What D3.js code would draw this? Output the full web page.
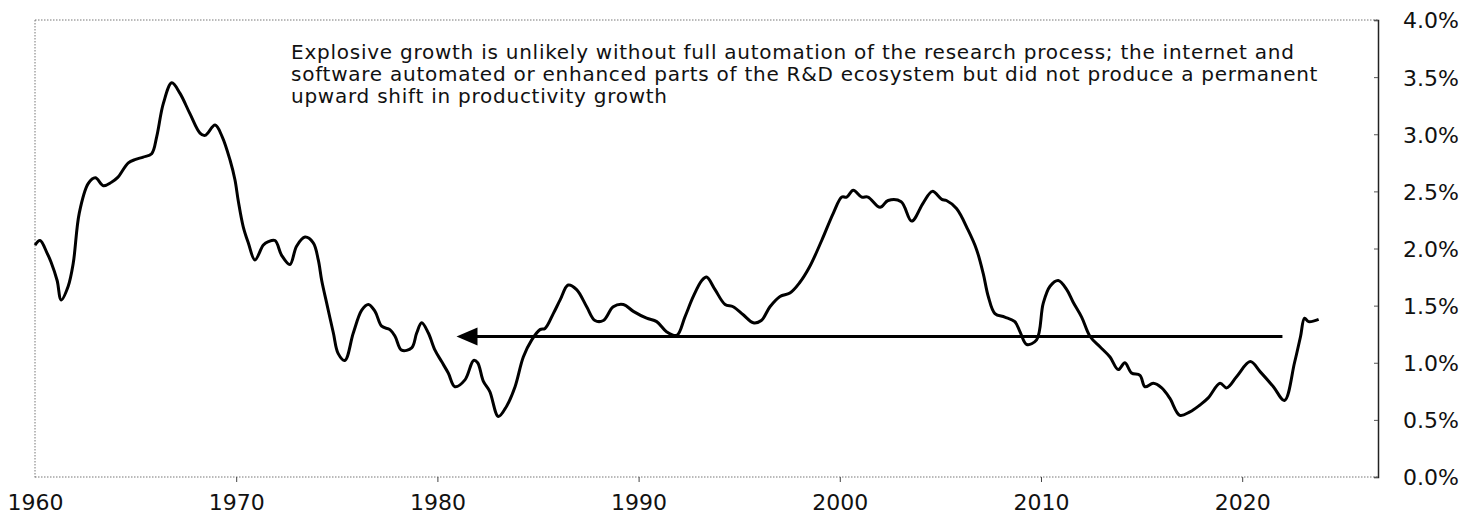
<!DOCTYPE html>
<html>
<head>
<meta charset="utf-8">
<script src="https://cdn.jsdelivr.net/npm/d3@7"></script>
<style>
  body { margin: 0; background: #fff; }
  svg { display: block; }
  .lbl { font-family: "DejaVu Sans", "Liberation Sans", sans-serif; fill: #111; }
</style>
</head>
<body>
<script>
// productivity growth
const years = [
  1960.0, 1960.25, 1960.6, 1960.8, 1961.1, 1961.3, 1961.65, 1961.9, 1962.2, 1962.65,
  1963.0, 1963.4, 1963.8, 1964.1, 1964.64, 1965.0, 1965.38, 1965.8, 1966.05, 1966.38,
  1966.8, 1967.2, 1967.7, 1968.2, 1968.45, 1968.95, 1969.3, 1969.7, 1969.94, 1970.1,
  1970.35, 1970.6, 1970.93, 1971.35, 1971.6, 1971.93, 1972.26, 1972.67, 1973.0, 1973.42,
  1973.83, 1974.08, 1974.25, 1974.5, 1974.83, 1975.07, 1975.4, 1975.82, 1976.24, 1976.57,
  1976.9, 1977.23, 1977.64, 1977.9, 1978.22, 1978.72, 1978.97, 1979.22, 1979.55, 1979.88,
  1980.21, 1980.54, 1980.87, 1981.37, 1981.8, 1982.0, 1982.28, 1982.6, 1983.03, 1983.44,
  1983.86, 1984.27, 1984.69, 1985.1, 1985.35, 1985.76, 1986.1, 1986.5, 1986.92, 1987.42,
  1987.83, 1988.25, 1988.74, 1989.24, 1989.74, 1990.4, 1990.9, 1991.4, 1991.9, 1992.3,
  1992.72, 1993.14, 1993.38, 1993.8, 1994.3, 1994.7, 1995.2, 1995.7, 1996.1, 1996.53,
  1997.03, 1997.52, 1998.0, 1998.5, 1999.1, 1999.68, 2000.1, 2000.34, 2000.67, 2001.09,
  2001.4, 2002.0, 2002.4, 2003.05, 2003.57, 2004.15, 2004.6, 2005.07, 2005.3, 2005.8,
  2006.38, 2006.8, 2007.13, 2007.38, 2007.71, 2008.2, 2008.7, 2008.96, 2009.29, 2009.78,
  2010.11, 2010.45, 2010.86, 2011.28, 2011.6, 2012.02, 2012.44, 2012.93, 2013.43, 2013.84,
  2014.17, 2014.5, 2014.92, 2015.17, 2015.58, 2016.0, 2016.4, 2016.9, 2017.4, 2017.9,
  2018.3, 2018.9, 2019.23, 2019.73, 2020.4, 2020.9, 2021.55, 2022.1, 2022.6, 2022.9,
  2023.1, 2023.3, 2023.8
];
const growth = [
  2.03, 2.07, 1.96, 1.88, 1.72, 1.55, 1.67, 1.87, 2.31, 2.57,
  2.62, 2.55, 2.58, 2.62, 2.75, 2.78, 2.80, 2.83, 2.98, 3.27,
  3.45, 3.36, 3.18, 3.01, 2.99, 3.08, 2.98, 2.77, 2.60, 2.42,
  2.19, 2.05, 1.90, 2.03, 2.06, 2.07, 1.94, 1.86, 2.02, 2.10,
  2.05, 1.90, 1.72, 1.52, 1.26, 1.08, 1.02, 1.26, 1.46, 1.51,
  1.45, 1.32, 1.29, 1.23, 1.11, 1.13, 1.26, 1.35, 1.26, 1.11,
  1.01, 0.91, 0.79, 0.85, 1.02, 1.00, 0.84, 0.75, 0.53, 0.62,
  0.79, 1.05, 1.20, 1.29, 1.30, 1.43, 1.55, 1.68, 1.64, 1.49,
  1.37, 1.37, 1.49, 1.51, 1.45, 1.39, 1.36, 1.27, 1.24, 1.40,
  1.58, 1.72, 1.75, 1.64, 1.51, 1.49, 1.42, 1.35, 1.37, 1.49,
  1.58, 1.61, 1.70, 1.84, 2.07, 2.31, 2.45, 2.45, 2.51, 2.45,
  2.45, 2.36, 2.42, 2.41, 2.24, 2.40, 2.50, 2.43, 2.42, 2.35,
  2.16, 1.99, 1.78, 1.58, 1.43, 1.40, 1.36, 1.27, 1.16, 1.20,
  1.52, 1.67, 1.72, 1.64, 1.53, 1.40, 1.23, 1.14, 1.05, 0.94,
  1.00, 0.91, 0.89, 0.79, 0.82, 0.78, 0.69, 0.54, 0.57, 0.63,
  0.69, 0.82, 0.78, 0.88, 1.01, 0.92, 0.79, 0.67, 1.00, 1.23,
  1.39, 1.36, 1.38
];

const xTicks = [1960, 1970, 1980, 1990, 2000, 2010, 2020];
const yTicks = [0, 0.5, 1.0, 1.5, 2.0, 2.5, 3.0, 3.5, 4.0];

// arrow: from 2022 back to 1981 at the same level
const arrowYears = [2022.0, 1980.95];
const arrowLevel = 1.23;

const noteLines = [
  "Explosive growth is unlikely without full automation of the research process; the internet and",
  "software automated or enhanced parts of the R&D ecosystem but did not produce a permanent",
  "upward shift in productivity growth"
];

let width = 1482,
    height = 524,
    margin = {top: 20, right: 104, bottom: 47, left: 35};

let svg = d3.select("body").append("svg")
  .attr("width", width)
  .attr("height", height);

let x = d3.scaleLinear().domain([1960, 2026.75]).range([margin.left, width - margin.right]);
let y = d3.scaleLinear().domain([0, 4]).range([height - margin.bottom, margin.top]);

// dotted frame: top, left, bottom
let frame = svg.append("g")
  .attr("fill", "none")
  .attr("stroke", "#777")
  .attr("stroke-width", 1)
  .attr("stroke-dasharray", "1.5,1.5");
frame.append("line").attr("x1", x(1960)).attr("x2", x.range()[1]).attr("y1", y(4)).attr("y2", y(4));
frame.append("line").attr("x1", x(1960)).attr("x2", x(1960)).attr("y1", y(4)).attr("y2", y(0) + 2);
frame.append("line").attr("x1", x(1960)).attr("x2", x.range()[1]).attr("y1", y(0)).attr("y2", y(0));

// right axis
let yAxis = d3.axisRight(y)
  .tickValues(yTicks)
  .tickSize(-4)
  .tickFormat(d => d.toFixed(1) + "%");
let ga = svg.append("g")
  .attr("transform", `translate(${x.range()[1]},0)`)
  .call(yAxis);
ga.select(".domain").attr("stroke", "#222").attr("stroke-width", 1.5);
ga.selectAll(".tick line").attr("stroke", "#555");
ga.selectAll(".tick text")
  .attr("class", "lbl")
  .attr("x", 25)
  .attr("dy", "0.36em")
  .style("font-size", "22px");

// bottom axis
let xAxis = d3.axisBottom(x)
  .tickValues(xTicks)
  .tickSize(5)
  .tickFormat(d3.format("d"));
let gx = svg.append("g")
  .attr("transform", `translate(0,${y(0)})`)
  .call(xAxis);
gx.select(".domain").remove();
gx.selectAll(".tick line").attr("stroke", "#444").filter(d => d === 1960).remove();
gx.selectAll(".tick text")
  .attr("class", "lbl")
  .attr("y", 33)
  .attr("dy", "0")
  .style("font-size", "22px");

// series
let line = d3.line()
  .x((d, i) => x(years[i]))
  .y(d => y(d))
  .curve(d3.curveCatmullRom.alpha(0.5));

svg.append("path")
  .datum(growth)
  .attr("fill", "none")
  .attr("stroke", "#000")
  .attr("stroke-width", 3)
  .attr("stroke-linejoin", "round")
  .attr("d", line);

// arrow
let ay = y(arrowLevel),
    tip = x(arrowYears[1]);
svg.append("line")
  .attr("x1", x(arrowYears[0])).attr("x2", tip + 15)
  .attr("y1", ay).attr("y2", ay)
  .attr("stroke", "#000")
  .attr("stroke-width", 3);
svg.append("path")
  .attr("d", `M${tip},${ay} L${tip + 21},${ay - 9} L${tip + 21},${ay + 9} Z`)
  .attr("fill", "#000");

// annotation
svg.append("text")
  .attr("class", "lbl")
  .style("font-size", "20px")
  .style("letter-spacing", "0.75px")
  .selectAll("tspan")
  .data(noteLines)
  .enter().append("tspan")
  .attr("x", 291)
  .attr("y", (d, i) => 59 + i * 22)
  .text(d => d);
</script>
</body>
</html>
